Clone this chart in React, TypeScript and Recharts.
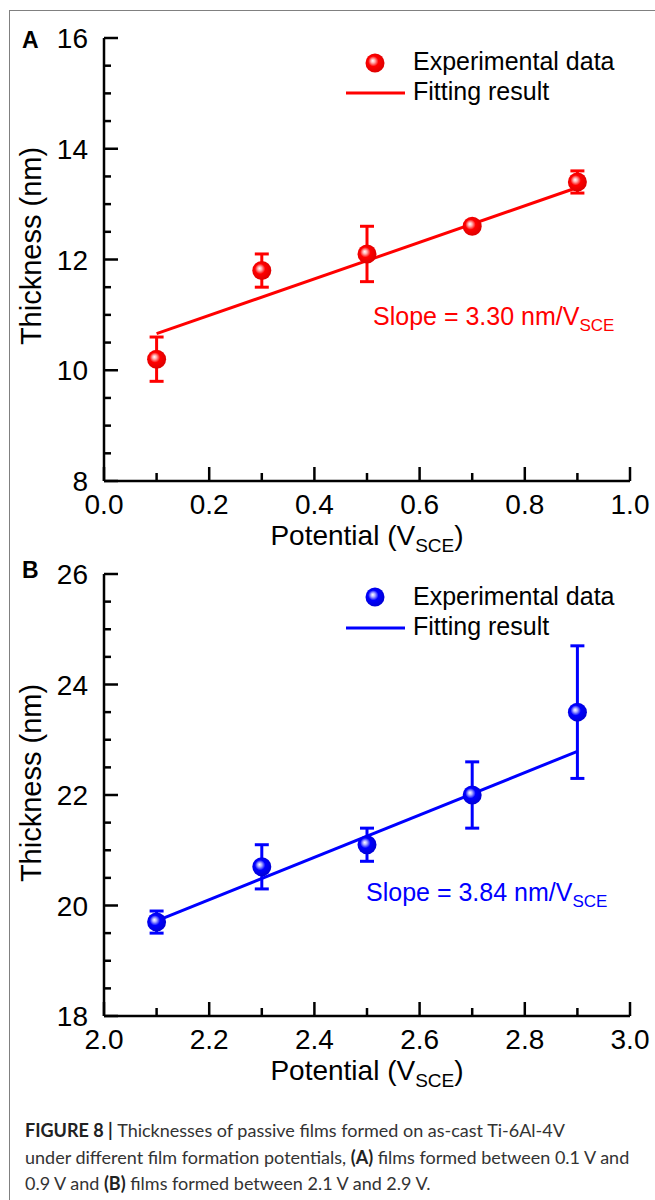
import React from "react";
import { ComposedChart, Scatter, Line, XAxis, YAxis, ErrorBar } from "recharts";

// panel A: films formed between 0.1 V and 0.9 V
const potentialA = [0.1, 0.3, 0.5, 0.7, 0.9];
const thicknessA = [10.2, 11.8, 12.1, 12.6, 13.4];
const errorA = [0.4, 0.3, 0.5, 0.05, 0.2];
const fitXA = [0.1, 0.9];
const fitYA = [10.66, 13.3];

// panel B: films formed between 2.1 V and 2.9 V
const potentialB = [2.1, 2.3, 2.5, 2.7, 2.9];
const thicknessB = [19.7, 20.7, 21.1, 22.0, 23.5];
const errorB = [0.2, 0.4, 0.3, 0.6, 1.2];
const fitXB = [2.1, 2.9];
const fitYB = [19.72, 22.79];

const xMajorA = [0, 0.2, 0.4, 0.6, 0.8, 1.0];
const xMinorA = [0.1, 0.3, 0.5, 0.7, 0.9];
const yMajorA = [8, 10, 12, 14, 16];
const yMinorA = [8.5, 9, 9.5, 10.5, 11, 11.5, 12.5, 13, 13.5, 14.5, 15, 15.5];

const xMajorB = [2.0, 2.2, 2.4, 2.6, 2.8, 3.0];
const xMinorB = [2.1, 2.3, 2.5, 2.7, 2.9];
const yMajorB = [18, 20, 22, 24, 26];
const yMinorB = [18.5, 19, 19.5, 20.5, 21, 21.5, 22.5, 23, 23.5, 24.5, 25, 25.5];

const FONT = "'Liberation Sans', Arial, sans-serif";

const isMajor = (list: number[], v: number) => list.some((m) => Math.abs(m - v) < 1e-6);

const makeXTick = (majors: number[]) => (p: any) => {
  const v = p.payload.value;
  const major = isMajor(majors, v);
  return (
    <g>
      <line x1={p.x} x2={p.x} y1={p.y} y2={p.y - (major ? 14 : 8)} stroke="#000" strokeWidth={2.5} />
      {major && (
        <text x={p.x} y={p.y + 33} textAnchor="middle" fontSize={28} fontFamily={FONT} fill="#000">
          {v.toFixed(1)}
        </text>
      )}
    </g>
  );
};

const makeYTick = (majors: number[]) => (p: any) => {
  const v = p.payload.value;
  const major = isMajor(majors, v);
  return (
    <g>
      <line x1={p.x} x2={p.x + (major ? 14 : 7)} y1={p.y} y2={p.y} stroke="#000" strokeWidth={2.5} />
      {major && (
        <text x={p.x - 16} y={p.y + 10} textAnchor="end" fontSize={28} fontFamily={FONT} fill="#000">
          {v}
        </text>
      )}
    </g>
  );
};

const Ball = ({ cx, cy, grad }: any) => <circle cx={cx} cy={cy} r={9.5} fill={`url(#${grad})`} />;

const Panel = ({ xs, ys, errs, fitX, fitY, xMajor, xMinor, yMajor, yMinor, color, grad, top, bottomMargin }: any) => {
  const points = xs.map((x: number, i: number) => ({ x, y: ys[i], err: errs[i] }));
  const fit = fitX.map((x: number, i: number) => ({ x, y: fitY[i] }));
  const xTicks = [...xMajor, ...xMinor].sort((a, b) => a - b);
  const yTicks = [...yMajor, ...yMinor].sort((a, b) => a - b);
  const xDomain = [xMajor[0], xMajor[xMajor.length - 1]];
  const yDomain = [yMajor[0], yMajor[yMajor.length - 1]];
  const axisLine = { stroke: "#000", strokeWidth: 2.5 };
  return (
    <div style={{ position: "absolute", left: 0, top }}>
      <ComposedChart width={655} height={560} margin={{ top: 38, right: 25, left: 44, bottom: bottomMargin }}>
        <XAxis
          xAxisId="b"
          dataKey="x"
          type="number"
          domain={xDomain}
          ticks={xTicks}
          interval={0}
          tickSize={0}
          tickMargin={0}
          tickLine={false}
          axisLine={axisLine}
          tick={makeXTick(xMajor)}
          height={30}
          allowDataOverflow
        />
        <XAxis xAxisId="t" orientation="top" type="number" domain={xDomain} height={0} tick={false} tickLine={false} axisLine={axisLine} />
        <YAxis
          yAxisId="l"
          type="number"
          domain={yDomain}
          ticks={yTicks}
          interval={0}
          tickSize={0}
          tickMargin={0}
          tickLine={false}
          axisLine={axisLine}
          tick={makeYTick(yMajor)}
          width={60}
          allowDataOverflow
        />
        <YAxis yAxisId="r" orientation="right" type="number" domain={yDomain} width={0} tick={false} tickLine={false} axisLine={axisLine} />
        <Line
          xAxisId="b"
          yAxisId="l"
          data={fit}
          dataKey="y"
          type="linear"
          stroke={color}
          strokeWidth={3}
          dot={false}
          activeDot={false}
          isAnimationActive={false}
        />
        <Scatter
          xAxisId="b"
          yAxisId="l"
          data={points}
          dataKey="y"
          shape={(p: any) => <Ball cx={p.cx} cy={p.cy} grad={grad} />}
          isAnimationActive={false}
        >
          <ErrorBar dataKey="err" direction="y" width={7} stroke={color} strokeWidth={3} isAnimationActive={false} />
        </Scatter>
      </ComposedChart>
    </div>
  );
};

const Sub = ({ children, size, dy }: any) => (
  <tspan fontSize={size} dy={dy}>{children}</tspan>
);

export default function App() {
  return (
    <div style={{ position: "absolute", left: 0, top: 0, width: 655, height: 1200, background: "#fff", overflow: "hidden" }}>
      <div style={{ position: "absolute", left: 9, top: 10, right: -5, bottom: -5, borderLeft: "1px solid #808080", borderTop: "1px solid #808080" }} />
      <Panel
        xs={potentialA} ys={thicknessA} errs={errorA} fitX={fitXA} fitY={fitYA}
        xMajor={xMajorA} xMinor={xMinorA} yMajor={yMajorA} yMinor={yMinorA}
        color="#ff0000" grad="ballRed" top={0} bottomMargin={49}
      />
      <Panel
        xs={potentialB} ys={thicknessB} errs={errorB} fitX={fitXB} fitY={fitYB}
        xMajor={xMajorB} xMinor={xMinorB} yMajor={yMajorB} yMinor={yMinorB}
        color="#0000ff" grad="ballBlue" top={536} bottomMargin={50}
      />
      <svg width={655} height={1200} style={{ position: "absolute", left: 0, top: 0, pointerEvents: "none" }}>
        <defs>
          <radialGradient id="ballRed" cx="0.45" cy="0.45" r="0.6" fx="0.38" fy="0.38">
            <stop offset="0" stopColor="#ffffff" />
            <stop offset="0.18" stopColor="#ffb0b0" />
            <stop offset="0.45" stopColor="#ff0000" />
            <stop offset="1" stopColor="#d80000" />
          </radialGradient>
          <radialGradient id="ballBlue" cx="0.45" cy="0.45" r="0.6" fx="0.38" fy="0.38">
            <stop offset="0" stopColor="#ffffff" />
            <stop offset="0.18" stopColor="#b0b0ff" />
            <stop offset="0.45" stopColor="#0000ff" />
            <stop offset="1" stopColor="#0000d0" />
          </radialGradient>
        </defs>
        <g fontFamily={FONT} fill="#000">
          {/* panel A */}
          <text x={22} y={48} fontSize={23} fontWeight="bold">A</text>
          <text transform="translate(41,246) rotate(-90)" textAnchor="middle" fontSize={29}>Thickness (nm)</text>
          <text x={367} y={545} textAnchor="middle" fontSize={28}>
            Potential (V<Sub size={19} dy={7}>SCE</Sub><tspan dy={-7}>)</tspan>
          </text>
          <circle cx={375} cy={63} r={9.5} fill="url(#ballRed)" />
          <text x={413} y={70} fontSize={25}>Experimental data</text>
          <line x1={346} x2={405} y1={93} y2={93} stroke="#ff0000" strokeWidth={3} />
          <text x={413} y={100} fontSize={25}>Fitting result</text>
          <text x={373} y={325} fontSize={25} fill="#ff0000">
            Slope = 3.30 nm/V<Sub size={17} dy={6}>SCE</Sub>
          </text>

          {/* panel B */}
          <text x={22} y={578} fontSize={23} fontWeight="bold">B</text>
          <text transform="translate(41,783) rotate(-90)" textAnchor="middle" fontSize={29}>Thickness (nm)</text>
          <text x={367} y={1080} textAnchor="middle" fontSize={28}>
            Potential (V<Sub size={19} dy={7}>SCE</Sub><tspan dy={-7}>)</tspan>
          </text>
          <circle cx={375} cy={597} r={9.5} fill="url(#ballBlue)" />
          <text x={413} y={605} fontSize={25}>Experimental data</text>
          <line x1={346} x2={405} y1={628} y2={628} stroke="#0000ff" strokeWidth={3} />
          <text x={413} y={635} fontSize={25}>Fitting result</text>
          <text x={366} y={901} fontSize={25} fill="#0000ff">
            Slope = 3.84 nm/V<Sub size={17} dy={6}>SCE</Sub>
          </text>
        </g>

        {/* caption */}
        <g fontFamily="Lato, 'Open Sans', sans-serif" fontSize={18} fill="#333">
          <text x={25} y={1137}>
            <tspan fontWeight="bold" fill="#222">FIGURE 8 | </tspan>Thicknesses of passive films formed on as-cast Ti-6Al-4V
          </text>
          <text x={25} y={1164}>
            under different film formation potentials, <tspan fontWeight="bold" fill="#222">(A)</tspan> films formed between 0.1 V and
          </text>
          <text x={25} y={1190}>
            0.9 V and <tspan fontWeight="bold" fill="#222">(B)</tspan> films formed between 2.1 V and 2.9 V.
          </text>
        </g>
      </svg>
    </div>
  );
}
